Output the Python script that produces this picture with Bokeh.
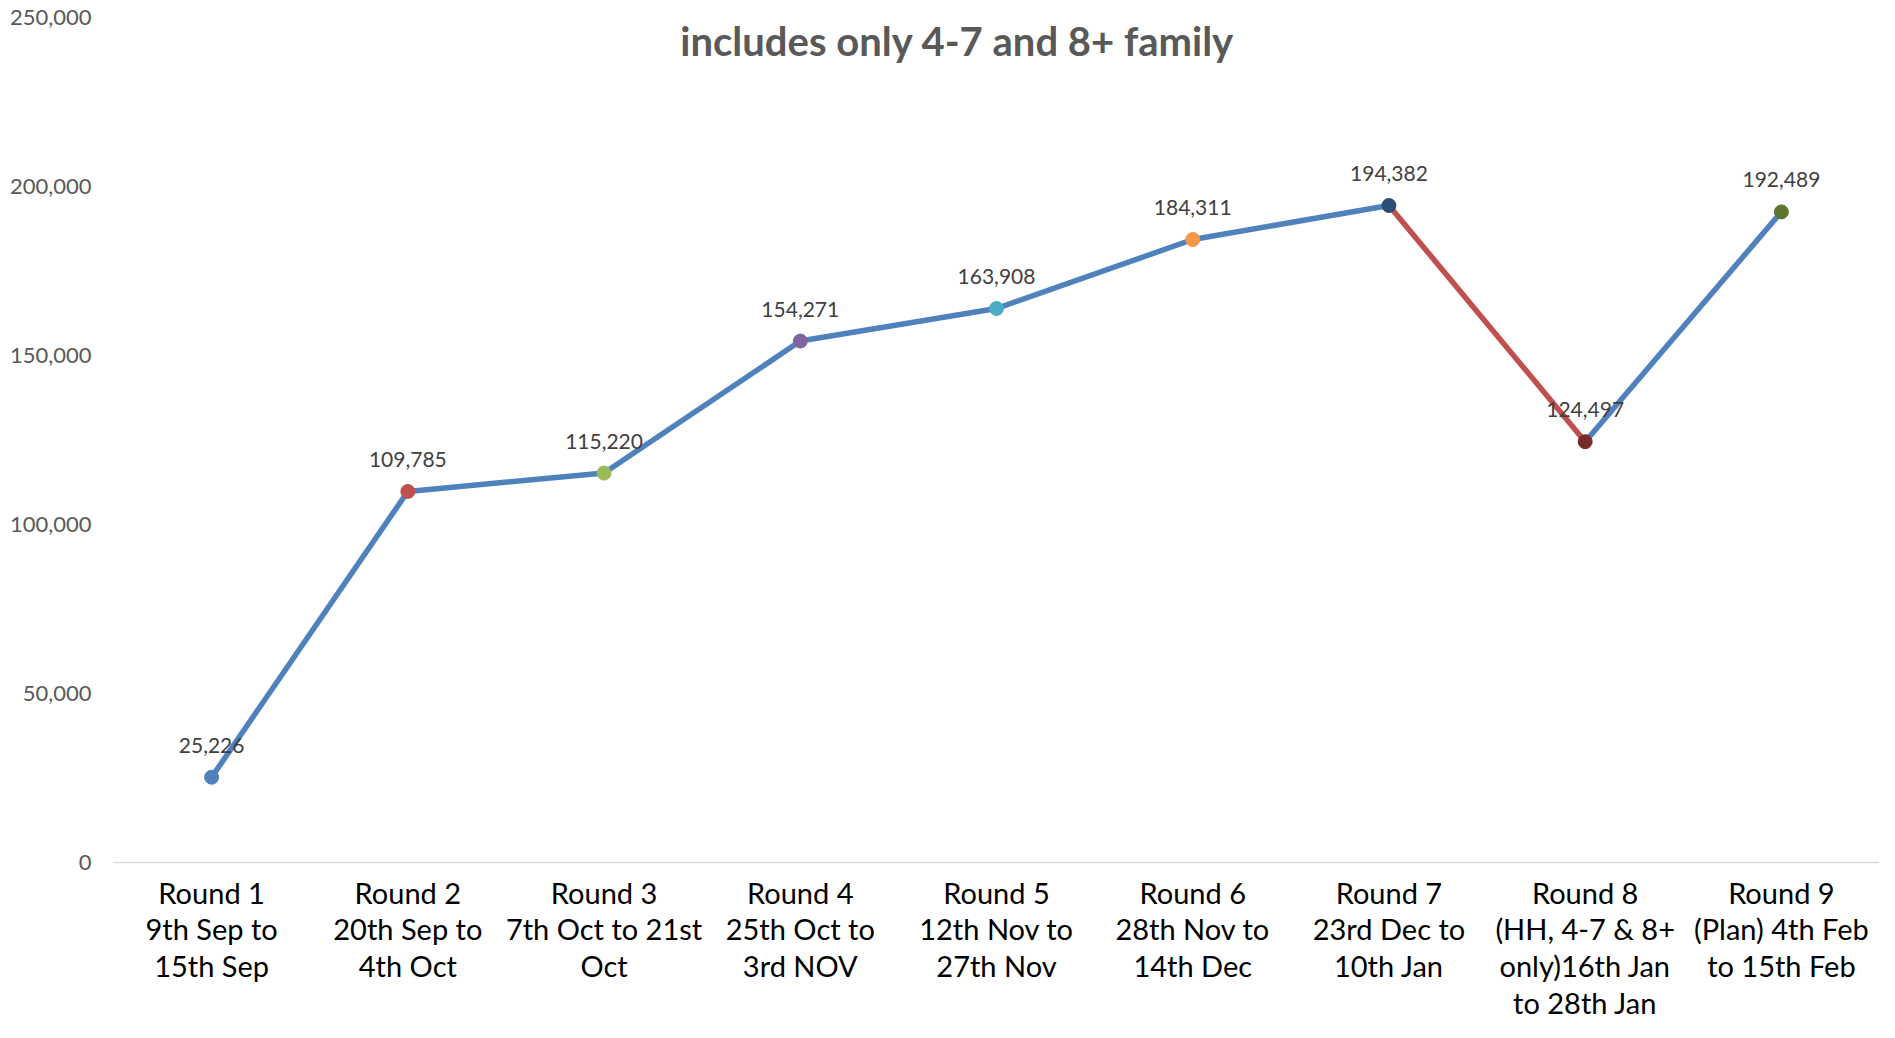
from bokeh.plotting import figure
from bokeh.models import ColumnDataSource, Range1d, FixedTicker, Label, NumeralTickFormatter
from bokeh.core.properties import value
from bokeh.embed import file_html
from bokeh.resources import INLINE

# ---- data ----
categories = [
    "Round 1\n9th Sep to\n15th Sep",
    "Round 2\n20th Sep to\n4th Oct",
    "Round 3\n7th Oct to 21st\nOct",
    "Round 4\n25th Oct to\n3rd NOV",
    "Round 5\n12th Nov to\n27th Nov",
    "Round 6\n28th Nov to\n14th Dec",
    "Round 7\n23rd Dec to\n10th Jan",
    "Round 8\n(HH, 4-7 & 8+\nonly)16th Jan\nto 28th Jan",
    "Round 9\n(Plan) 4th Feb\nto 15th Feb",
]
values = [25226, 109785, 115220, 154271, 163908, 184311, 194382, 124497, 192489]
y_ticks = [0, 50000, 100000, 150000, 200000, 250000]
title_text = "includes only 4-7 and 8+ family"

# ---- styles ----
marker_colors = ["#4F81BD", "#C0504D", "#9BBB59", "#8064A2", "#4BACC6",
                 "#F79646", "#2C4D75", "#772C2A", "#5F7530"]
segment_colors = ["#4F81BD"] * 6 + ["#C0504D", "#4F81BD"]

n = len(categories)
xs = [i + 0.5 for i in range(n)]

p = figure(width=1879, height=1022, output_backend="svg", toolbar_location=None,
           x_range=Range1d(0, n), y_range=Range1d(0, 250000))
p.min_border_left = 113
p.min_border_right = 0
p.min_border_top = 17
p.min_border_bottom = 158
p.outline_line_color = None
p.background_fill_color = "white"
p.border_fill_color = "white"
p.xgrid.grid_line_color = None
p.ygrid.grid_line_color = None

font = "Lato"

# x axis
p.xaxis.ticker = FixedTicker(ticks=xs)
p.xaxis.major_label_overrides = {x: c for x, c in zip(xs, categories)}
p.xaxis.axis_line_color = "#D9D9D9"
p.xaxis.axis_line_width = 1.5
p.xaxis.major_tick_line_color = None
p.xaxis.major_tick_out = 0
p.xaxis.major_tick_in = 0
p.xaxis.minor_tick_line_color = None
p.xaxis.major_label_text_font = font
p.xaxis.major_label_text_font_size = "29px"
p.xaxis.major_label_text_color = "#000000"
p.xaxis.major_label_text_line_height = 1.05
p.xaxis.major_label_standoff = 12

# y axis
p.yaxis.ticker = FixedTicker(ticks=y_ticks)
p.yaxis.formatter = NumeralTickFormatter(format="0,0")
p.yaxis.axis_line_color = None
p.yaxis.major_tick_line_color = None
p.yaxis.major_tick_out = 0
p.yaxis.major_tick_in = 0
p.yaxis.minor_tick_line_color = None
p.yaxis.major_label_text_font = font
p.yaxis.major_label_text_font_size = "22px"
p.yaxis.major_label_text_color = "#595959"
p.yaxis.major_label_standoff = 22

seg = ColumnDataSource(dict(x0=xs[:-1], y0=values[:-1], x1=xs[1:], y1=values[1:],
                            color=segment_colors))
p.segment("x0", "y0", "x1", "y1", source=seg, line_color="color", line_width=5.5,
          line_cap="round")

pts = ColumnDataSource(dict(x=xs, y=values, color=marker_colors,
                            label=[f"{v:,}" for v in values]))
p.scatter("x", "y", source=pts, size=14, fill_color="color", line_color="color")
p.text("x", "y", text="label", source=pts, text_font=value(font),
       text_font_size="21px", text_color="#404040", text_align="center",
       text_baseline="middle", y_offset=-32)

p.add_layout(Label(x=4.3, y=242900, text=title_text, text_font=font,
                   text_font_size="40px", text_font_style="bold", text_color="#595959",
                   text_align="center", text_baseline="middle"))

open("out.html", "w").write(file_html(p, INLINE))
